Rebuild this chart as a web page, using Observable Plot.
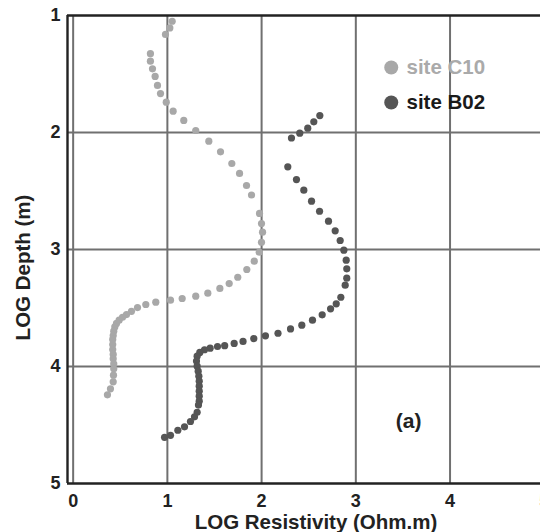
<!DOCTYPE html>
<html>
<head>
<meta charset="utf-8">
<script src="https://cdn.jsdelivr.net/npm/d3@7"></script>
<script src="https://cdn.jsdelivr.net/npm/@observablehq/plot@0.6"></script>
<style>
  html, body { margin: 0; padding: 0; background: #fff; }
  #chart { width: 540px; height: 532px; overflow: hidden; }
</style>
</head>
<body>
<div id="chart"></div>
<script>
// Series: site C10 (LOG resistivity, LOG depth)
const c10Res = [1.051,1.026,0.980,0.820,0.820,0.842,0.870,0.895,0.927,0.988,1.061,1.174,1.301,1.440,1.564,1.684,1.766,1.840,1.893,1.978,1.999,2.010,1.999,1.975,1.922,1.843,1.747,1.656,1.557,1.429,1.301,1.157,1.033,0.877,0.771,0.683,0.619,0.566,0.524,0.488,0.460,0.442,0.431,0.425,0.420,0.420,0.420,0.425,0.425,0.431,0.431,0.428,0.425,0.396,0.364];
const c10Depth = [1.049,1.106,1.162,1.326,1.390,1.456,1.521,1.598,1.667,1.741,1.818,1.897,1.983,2.074,2.165,2.265,2.350,2.453,2.534,2.692,2.778,2.852,2.938,3.023,3.100,3.171,3.237,3.291,3.333,3.373,3.399,3.419,3.433,3.450,3.470,3.496,3.528,3.556,3.579,3.604,3.632,3.662,3.698,3.735,3.769,3.812,3.855,3.897,3.934,3.977,4.020,4.074,4.131,4.191,4.242];

// Series: site B02
const b02Res = [2.618,2.554,2.490,2.405,2.317,2.278,2.370,2.448,2.530,2.615,2.710,2.781,2.834,2.873,2.898,2.904,2.904,2.887,2.841,2.792,2.732,2.643,2.540,2.427,2.307,2.174,2.041,1.917,1.803,1.709,1.608,1.532,1.454,1.394,1.344,1.316,1.309,1.316,1.327,1.334,1.338,1.338,1.338,1.338,1.338,1.330,1.316,1.288,1.245,1.182,1.111,1.033,0.970];
const b02Depth = [1.855,1.909,1.963,2.006,2.047,2.293,2.402,2.493,2.587,2.673,2.758,2.840,2.923,3.006,3.091,3.165,3.245,3.305,3.408,3.464,3.507,3.558,3.604,3.647,3.679,3.716,3.738,3.761,3.786,3.803,3.822,3.829,3.843,3.857,3.880,3.912,3.954,3.997,4.040,4.083,4.125,4.168,4.211,4.254,4.296,4.330,4.391,4.430,4.470,4.516,4.545,4.588,4.605];

// Ticks and labels
const xTicks = [0, 1, 2, 3, 4, 5];
const yTicks = [1, 2, 3, 4, 5];
const xGrid = [0, 1, 2, 3, 4, 5];
const yGrid = [2, 3, 4];
const seriesNames = ["site C10", "site B02"];
const panelLabel = ["(a)"];
const xTitle = "LOG Resistivity (Ohm.m)";
const yTitle = "LOG Depth (m)";

const xDomain = [-0.06, 4.96];
const yDomain = [1, 5];

const c10 = c10Res.map((v, i) => ({x: v, y: c10Depth[i]}));
const b02 = b02Res.map((v, i) => ({x: v, y: b02Depth[i]}));

const FONT = "'Liberation Sans', Arial, Helvetica, sans-serif";
const colC10 = "#a8a8a8";
const colB02 = "#555555";

const chart = Plot.plot({
  width: 540,
  height: 532,
  marginLeft: 67,
  marginRight: 0,
  marginTop: 15,
  marginBottom: 49,
  style: {fontFamily: FONT, background: "#fff", overflow: "visible"},
  x: {domain: xDomain, axis: null},
  y: {domain: yDomain, reverse: true, axis: null},
  marks: [
    Plot.ruleX(xGrid, {stroke: "#707070", strokeWidth: 2}),
    Plot.ruleY(yGrid, {stroke: "#707070", strokeWidth: 2}),
    Plot.ruleY([yDomain[0]], {stroke: "#222", strokeWidth: 2.4}),
    Plot.ruleY([yDomain[1]], {stroke: "#222", strokeWidth: 2.4}),
    Plot.ruleX([xDomain[0]], {stroke: "#222", strokeWidth: 2.4}),
    Plot.dot(c10, {x: "x", y: "y", r: 3.6, fill: colC10, stroke: "none"}),
    Plot.dot(b02, {x: "x", y: "y", r: 3.6, fill: colB02, stroke: "none"}),
    Plot.axisX(xTicks, {tickSize: 0, tickPadding: 11, fontSize: 18, fontWeight: "bold", fill: "#222", label: null, anchor: "bottom", tickFormat: "d", clip: false}),
    Plot.axisY(yTicks, {tickSize: 0, tickPadding: 7, fontSize: 18, fontWeight: "bold", fill: "#222", label: null, anchor: "left", tickFormat: "d"}),
    Plot.text([xTitle], {frameAnchor: "bottom", text: d => d, dx: 12, dy: 39, fontSize: 20.5, fontWeight: "bold", fill: "#222", lineAnchor: "middle", textAnchor: "middle"}),
    Plot.text([yTitle], {frameAnchor: "left", text: d => d, dx: -44, dy: 18, rotate: -90, fontSize: 20.5, fontWeight: "bold", fill: "#222", lineAnchor: "middle", textAnchor: "middle"}),
    // legend
    Plot.dot([seriesNames[0]], {x: 3.376, y: 1.444, r: 7, fill: colC10, stroke: "none"}),
    Plot.dot([seriesNames[1]], {x: 3.376, y: 1.744, r: 7, fill: colB02, stroke: "none"}),
    Plot.text([seriesNames[0]], {x: 3.538, y: 1.444, text: d => d, textAnchor: "start", fontSize: 20.5, fontWeight: "bold", fill: "#aaaaaa", lineAnchor: "middle"}),
    Plot.text([seriesNames[1]], {x: 3.538, y: 1.744, text: d => d, textAnchor: "start", fontSize: 20.5, fontWeight: "bold", fill: "#1a1a1a", lineAnchor: "middle"}),
    Plot.text(panelLabel, {x: 3.56, y: 4.468, text: d => d, fontSize: 21, fontWeight: "bold", fill: "#222", lineAnchor: "middle"})
  ]
});
document.getElementById("chart").appendChild(chart);
</script>
</body>
</html>
